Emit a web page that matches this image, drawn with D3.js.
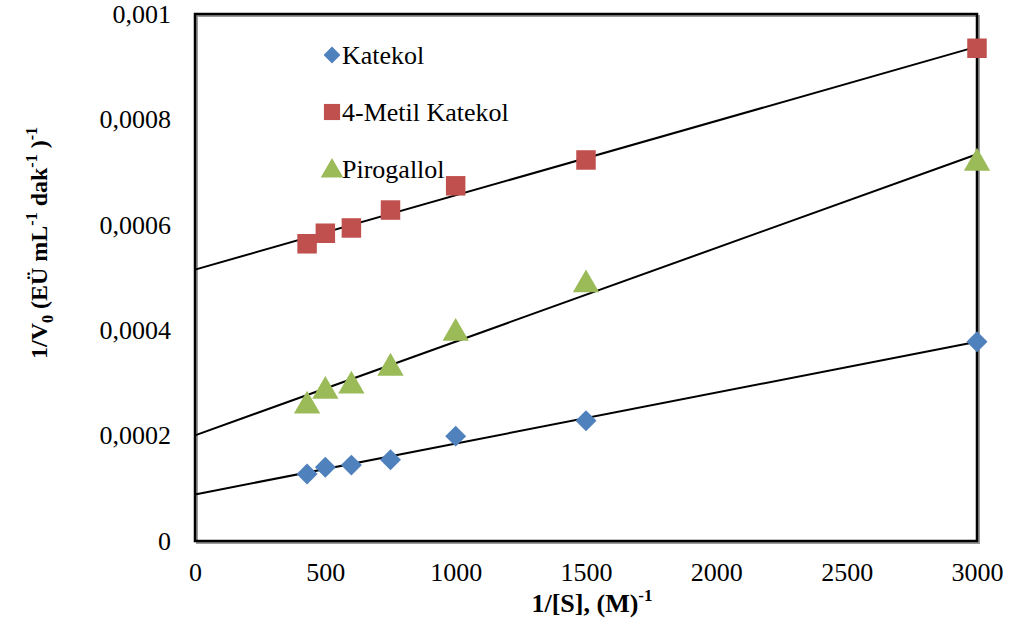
<!DOCTYPE html>
<html>
<head>
<meta charset="utf-8">
<script src="https://cdn.jsdelivr.net/npm/d3@7"></script>
<style>
  body { margin: 0; background: #fff; }
  text { font-family: "Liberation Serif", "Times New Roman", serif; fill: #000; }
</style>
</head>
<body>
<div id="chart"></div>
<script>
// data
const xValues = [430, 500, 600, 750, 1000, 1500, 3000];
const katekol = [0.000127, 0.000140, 0.000144, 0.000154, 0.000199, 0.000228, 0.000378];
const metilKatekol = [0.000564, 0.000584, 0.000594, 0.000628, 0.000674, 0.000723, 0.000935];
const pirogallol = [0.000260, 0.000288, 0.000298, 0.000332, 0.000398, 0.000490, 0.000721];
const xTicks = [0, 500, 1000, 1500, 2000, 2500, 3000];
const yTicks = [0, 0.0002, 0.0004, 0.0006, 0.0008, 0.001];
const yTickLabels = ["0", "0,0002", "0,0004", "0,0006", "0,0008", "0,001"];

const series = [
  { name: "Katekol", values: katekol, color: "#4F81BD", shape: d3.symbolDiamond2 },
  { name: "4-Metil Katekol", values: metilKatekol, color: "#C0504D", shape: d3.symbolSquare },
  { name: "Pirogallol", values: pirogallol, color: "#9BBB59", shape: d3.symbolTriangle }
];

const W = 1010, H = 634;
const margin = { top: 14, right: 33, bottom: 93, left: 195 };
const width = W - margin.left - margin.right;
const height = H - margin.top - margin.bottom;

const svg = d3.select("#chart").append("svg")
  .attr("width", W).attr("height", H);

const g = svg.append("g")
  .attr("transform", `translate(${margin.left},${margin.top})`);

const x = d3.scaleLinear().domain([0, 3000]).range([0, width]);
const y = d3.scaleLinear().domain([0, 0.001]).range([height, 0]);

// plot border with Excel-ish shadow
g.append("rect")
  .attr("x", 2).attr("y", 2)
  .attr("width", width).attr("height", height)
  .attr("fill", "none").attr("stroke", "#999").attr("stroke-width", 2);
g.append("rect")
  .attr("width", width).attr("height", height)
  .attr("fill", "none").attr("stroke", "#000").attr("stroke-width", 2.5);

// axes (labels only)
const xAxis = g.append("g")
  .attr("transform", `translate(0,${height})`)
  .call(d3.axisBottom(x).tickValues(xTicks).tickSize(0).tickPadding(22).tickFormat(d3.format("d")))
  .attr("font-family", null).attr("font-size", null);
xAxis.select(".domain").remove();
xAxis.selectAll("text").attr("font-family", "Liberation Serif").attr("font-size", 26);

const yAxis = g.append("g")
  .call(d3.axisLeft(y).tickValues(yTicks).tickSize(0).tickPadding(24)
    .tickFormat((d, i) => yTickLabels[i]))
  .attr("font-family", null).attr("font-size", null);
yAxis.select(".domain").remove();
yAxis.selectAll("text").attr("font-family", "Liberation Serif").attr("font-size", 26);

// linear trendlines (least squares)
function fit(xs, ys) {
  const mx = d3.mean(xs), my = d3.mean(ys);
  const sxy = d3.sum(xs, (v, i) => (v - mx) * (ys[i] - my));
  const sxx = d3.sum(xs, v => (v - mx) * (v - mx));
  const slope = sxy / sxx;
  return { slope, intercept: my - slope * mx };
}

const line = d3.line().x(d => x(d[0])).y(d => y(d[1]));

series.forEach(s => {
  const f = fit(xValues, s.values);
  const pts = [0, 3000].map(v => [v, f.intercept + f.slope * v]);
  g.append("path")
    .attr("d", line(pts))
    .attr("fill", "none").attr("stroke", "#000").attr("stroke-width", 2);
});

// markers
series.forEach(s => {
  const size = s.shape === d3.symbolSquare ? 380 : (s.shape === d3.symbolTriangle ? 300 : 280);
  g.selectAll(null)
    .data(xValues.map((v, i) => [v, s.values[i]]))
    .enter().append("path")
    .attr("transform", d => `translate(${x(d[0])},${y(d[1])})` + (s.shape === d3.symbolTriangle ? " translate(0,2)" : ""))
    .attr("d", d3.symbol().type(s.shape).size(size))
    .attr("fill", s.color);
});

// legend
const legend = g.append("g").attr("transform", "translate(137,41)");
series.forEach((s, i) => {
  const row = legend.append("g").attr("transform", `translate(0,${i * 57})`);
  const size = s.shape === d3.symbolSquare ? 260 : (s.shape === d3.symbolTriangle ? 220 : 180);
  row.append("path")
    .attr("d", d3.symbol().type(s.shape).size(size))
    .attr("transform", s.shape === d3.symbolTriangle ? "translate(0,2)" : null)
    .attr("fill", s.color);
  row.append("text")
    .attr("x", 10).attr("dy", "0.35em")
    .style("font-size", "26px")
    .text(s.name);
});

// axis titles
const xTitle = svg.append("text")
  .attr("x", margin.left + width / 2 + 6).attr("y", 612)
  .attr("text-anchor", "middle")
  .style("font-size", "26px").style("font-weight", "bold");
xTitle.append("tspan").text("1/[S], (M)");
xTitle.append("tspan").attr("dy", -11).style("font-size", "17px").text("-1");

const yTitle = svg.append("text")
  .attr("transform", "translate(47,243) rotate(-90)")
  .attr("text-anchor", "middle")
  .style("font-size", "24px").style("font-weight", "bold");
yTitle.append("tspan").text("1/V");
yTitle.append("tspan").attr("dy", 6).style("font-size", "16px").text("0");
yTitle.append("tspan").attr("dy", -6).text(" (EÜ mL");
yTitle.append("tspan").attr("dy", -10).style("font-size", "16px").text("-1");
yTitle.append("tspan").attr("dy", 10).text(" dak");
yTitle.append("tspan").attr("dy", -10).style("font-size", "16px").text("-1");
yTitle.append("tspan").attr("dy", 10).text(" )");
yTitle.append("tspan").attr("dy", -10).style("font-size", "16px").text("-1");
</script>
</body>
</html>
